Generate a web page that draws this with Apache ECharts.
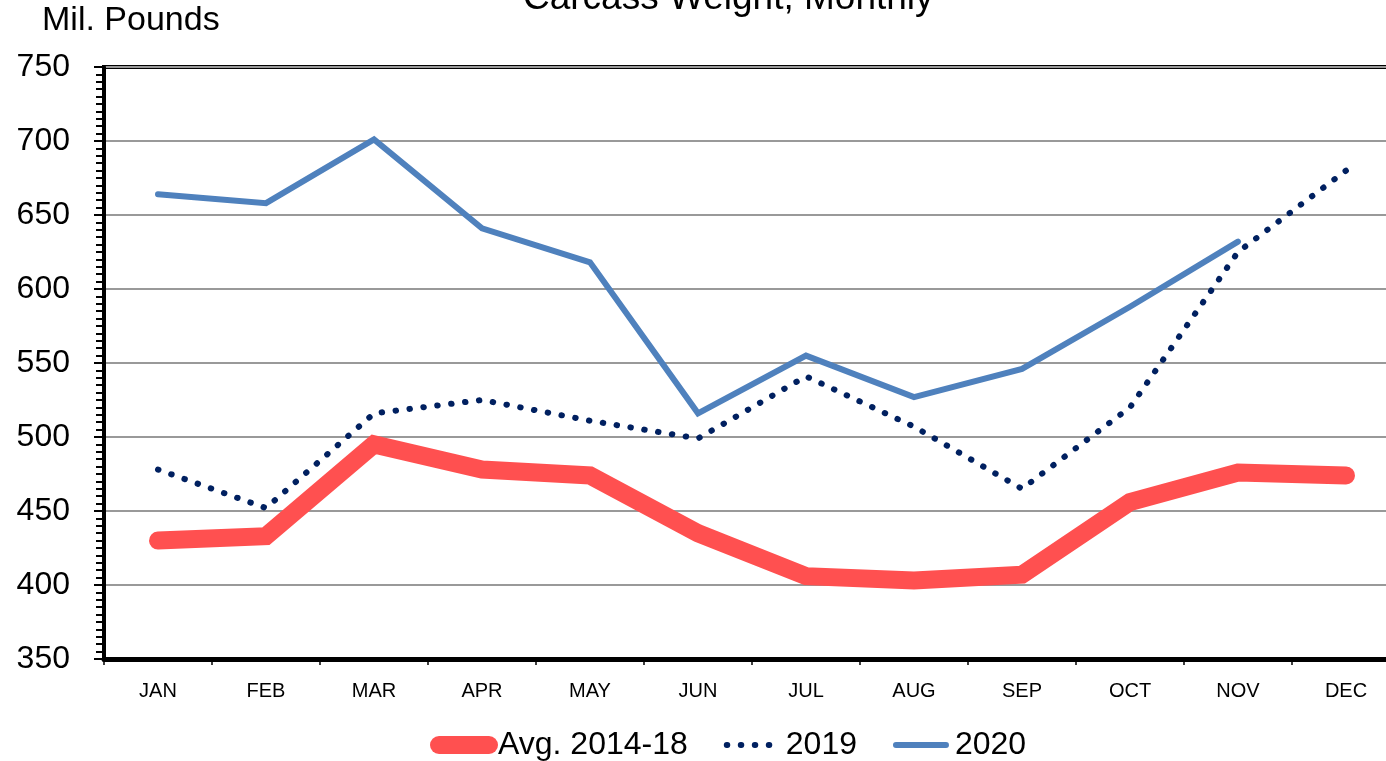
<!DOCTYPE html>
<html>
<head>
<meta charset="utf-8">
<script src="https://cdn.jsdelivr.net/npm/echarts@6/dist/echarts.min.js"></script>
<style>
  html, body { margin: 0; padding: 0; background: #fff; overflow: hidden; }
  #chart { width: 1400px; height: 761px; }
</style>
</head>
<body>
<div id="chart"></div>
<script>
const months = ['JAN', 'FEB', 'MAR', 'APR', 'MAY', 'JUN', 'JUL', 'AUG', 'SEP', 'OCT', 'NOV', 'DEC'];
const avg1418 = [430, 433, 495, 478, 474, 435, 406, 403, 407, 456, 476, 474];
const y2019 = [478, 452, 516, 525, 511, 499, 541, 507, 465, 520, 625, 680];
const y2020 = [664, 658, 701, 641, 618, 516, 555, 527, 546, 588, 632, null];

const FONT = '"Liberation Sans", Arial, sans-serif';

// plot area runs a little past the right edge of the window, like the original
const chart = echarts.init(document.getElementById('chart'));

chart.setOption({
  animation: false,
  title: {
    text: 'Carcass Weight, Monthly',
    left: 518,
    top: -25,
    textStyle: { fontFamily: FONT, fontSize: 37, fontWeight: 'normal', color: '#000' }
  },
  graphic: [
    {
      type: 'text',
      left: 42,
      top: 4,
      style: { text: 'Mil. Pounds', fontFamily: FONT, fontSize: 34, fill: '#000' }
    }
  ],
  legend: {
    left: 425,
    top: 724,
    itemWidth: 50,
    itemHeight: 20,
    itemGap: 36,
    textStyle: { fontFamily: FONT, fontSize: 32, color: '#000', padding: [0, 0, 0, 4] },
    data: [
      { name: 'Avg. 2014-18', lineStyle: { width: 18, cap: 'round' }, itemStyle: { opacity: 0 } },
      { name: '2019', lineStyle: { width: 6, type: [0.5, 13.5], cap: 'round' }, itemStyle: { opacity: 0 } },
      { name: '2020', lineStyle: { width: 6, cap: 'round' }, itemStyle: { opacity: 0 } }
    ]
  },
  grid: {
    left: 104,
    top: 67,
    right: 0,
    bottom: 102,
    show: true,
    borderColor: '#000',
    borderWidth: 4,
    backgroundColor: 'transparent'
  },
  xAxis: {
    type: 'category',
    data: months,
    boundaryGap: true,
    axisLine: { lineStyle: { color: '#000', width: 5 } },
    axisTick: { show: true, interval: 0, length: 6, lineStyle: { color: '#000', width: 1.5 } },
    axisLabel: { color: '#000', fontFamily: FONT, fontSize: 20, margin: 22 }
  },
  yAxis: {
    type: 'value',
    min: 350,
    max: 750,
    interval: 50,
    axisLine: { show: true, lineStyle: { color: '#000', width: 4 } },
    axisTick: { show: true, length: 10, lineStyle: { color: '#000', width: 2 } },
    minorTick: { show: true, splitNumber: 10, length: 8, lineStyle: { color: '#000', width: 2 } },
    splitLine: { lineStyle: { color: '#999', width: 2 } },
    axisLabel: { color: '#000', fontFamily: FONT, fontSize: 32, margin: 34 }
  },
  series: [
    {
      name: 'Avg. 2014-18',
      type: 'line',
      data: avg1418,
      symbol: 'none',
      lineStyle: { color: '#FF5050', width: 18, cap: 'round', join: 'miter' },
      itemStyle: { color: '#FF5050' },
      z: 2
    },
    {
      name: '2019',
      type: 'line',
      data: y2019,
      symbol: 'none',
      lineStyle: { color: '#002060', width: 6, type: [0.5, 13.5], cap: 'round' },
      itemStyle: { color: '#002060' },
      z: 3
    },
    {
      name: '2020',
      type: 'line',
      data: y2020,
      symbol: 'none',
      lineStyle: { color: '#4F81BD', width: 6, cap: 'round', join: 'miter' },
      itemStyle: { color: '#4F81BD' },
      z: 4
    }
  ]
});
</script>
</body>
</html>
